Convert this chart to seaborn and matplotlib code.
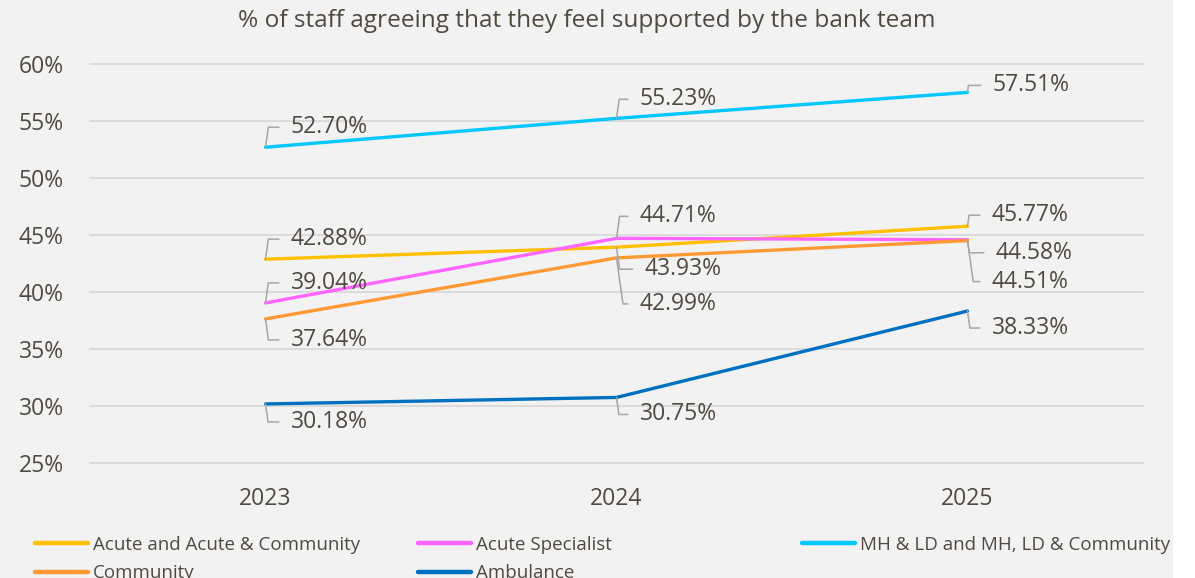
import matplotlib
matplotlib.use("Agg")
import matplotlib.pyplot as plt
from matplotlib.patches import Rectangle
import seaborn as sns
import pandas as pd

# Survey results: % of bank staff feeling supported by the bank team
years = ["2023", "2024", "2025"]
series_names = [
    "Acute and Acute & Community",
    "Acute Specialist",
    "MH & LD and MH, LD & Community",
    "Community",
    "Ambulance",
]
acute = [42.88, 43.93, 45.77]
acute_specialist = [39.04, 44.71, 44.58]
mh_ld = [52.70, 55.23, 57.51]
community = [37.64, 42.99, 44.51]
ambulance = [30.18, 30.75, 38.33]
y_ticks = [25, 30, 35, 40, 45, 50, 55, 60]

colors = ["#FFC000", "#FF66FF", "#00C8FF", "#FF9933", "#0070C0"]
values = [acute, acute_specialist, mh_ld, community, ambulance]

# Label offsets (pixels) from each point: (dx, dy) per year
label_offsets = [
    [(25, 20), (28, -22), (24, 11)],    # Acute
    [(25, 20), (23, 22), (28, -13)],    # Acute Specialist
    [(25, 20), (23, 19), (25, 7)],      # MH & LD
    [(25, -21), (23, -46), (24, -41)],  # Community
    [(25, -18), (23, -17), (24, -17)],  # Ambulance
]

rows = []
for name, vals in zip(series_names, values):
    for yr, v in zip(years, vals):
        rows.append({"Year": yr, "Value": v, "Series": name})
df = pd.DataFrame(rows)

sns.set_theme(style="white")
plt.rcParams["font.family"] = ["Open Sans", "DejaVu Sans"]
text_color = "#4F4940"
grid_color = "#D9D9D9"
bg = "#F2F2F2"

W, H = 1195, 578
fig = plt.figure(figsize=(W / 100, H / 100), dpi=100, facecolor="white")
fig.patches.append(Rectangle((0, 0), 1173 / W, 1, transform=fig.transFigure,
                             facecolor=bg, edgecolor="none", zorder=-10))

ax = fig.add_axes([90 / W, 1 - 463 / H, (1143 - 90) / W, (463 - 64) / H])
ax.set_facecolor("none")

sns.lineplot(data=df, x="Year", y="Value", hue="Series", hue_order=series_names,
             palette=colors, linewidth=2.4, ax=ax, sort=False, legend=True)
handles, labels = ax.get_legend_handles_labels()
ax.get_legend().remove()

ax.set_xlim(-0.5, 2.5)
ax.set_ylim(25, 60)
ax.set_yticks(y_ticks)
ax.set_yticklabels([f"{t}%" for t in y_ticks])
ax.set_xlabel("")
ax.set_ylabel("")
for s in ax.spines.values():
    s.set_visible(False)
ax.yaxis.grid(True, color=grid_color, linewidth=1.3, clip_on=False)
ax.set_axisbelow(True)
ax.tick_params(axis="y", length=0, pad=19, labelsize=16.5, labelcolor=text_color)
ax.tick_params(axis="x", length=0, pad=17, labelsize=16.5, labelcolor=text_color)

# Data labels with elbow leader lines
for si, vals in enumerate(values):
    for xi, v in enumerate(vals):
        dx, dy = label_offsets[si][xi]
        angle_b = 82 if dy > 0 else 98
        ax.annotate(
            f"{v:.2f}%", xy=(xi, v), xytext=(dx, dy), textcoords="offset pixels",
            ha="left", va="center", fontsize=16.5, color=text_color,
            arrowprops=dict(arrowstyle="-", color="#A6A6A6", lw=1.1,
                            relpos=(0, 0.5), shrinkA=6, shrinkB=0,
                            connectionstyle=f"angle,angleA=0,angleB={angle_b},rad=0"),
            zorder=5,
        )

fig.text(587 / W, 1 - 21 / H, "% of staff agreeing that they feel supported by the bank team",
         ha="center", va="center", fontsize=17.6, color=text_color)

# Legend laid out in three columns
columns = [([0, 3], 35), ([1, 4], 418), ([2], 802)]
for idx, x0 in columns:
    leg = fig.legend([handles[i] for i in idx], [labels[i] for i in idx],
                     loc="upper left", bbox_to_anchor=(x0 / W, 1 - 536 / H),
                     bbox_transform=fig.transFigure, frameon=False,
                     fontsize=13.5, handlelength=2.8, handletextpad=0.28,
                     borderpad=0, borderaxespad=0, labelspacing=0.55,
                     labelcolor=text_color)
    for ln in leg.get_lines():
        ln.set_linewidth(3.2)

fig.savefig("out.png", dpi=100, facecolor="white")
